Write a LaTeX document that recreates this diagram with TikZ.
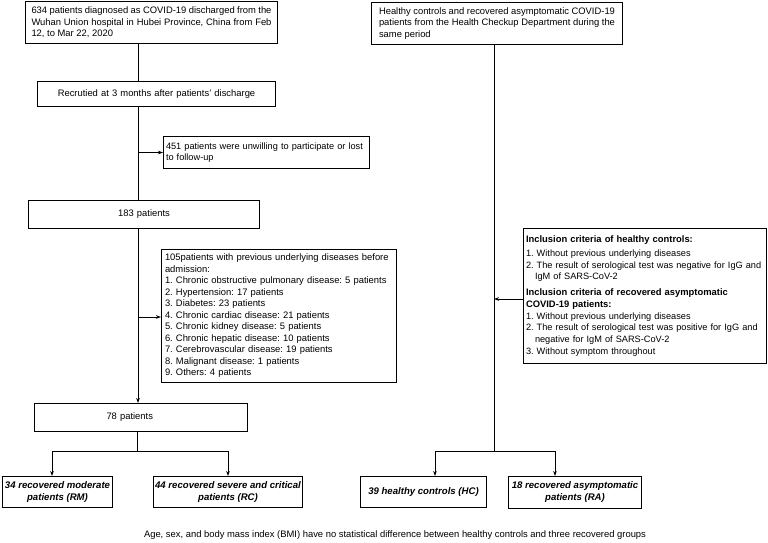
\documentclass[tikz,border=0pt]{standalone}
\usepackage{fontspec}
\setmainfont{Liberation Sans}
\usetikzlibrary{arrows.meta}
\begin{document}
\frenchspacing
\begin{tikzpicture}[x=1pt,y=-1pt,
  box/.style={draw, line width=1pt, inner ysep=0pt, anchor=north west, font=\fontsize{9.4}{11.5}\selectfont\frenchspacing},
  grp/.style={box, align=center, font=\fontsize{9.6}{12}\selectfont\bfseries\itshape\frenchspacing},
  arr/.style={-{Stealth[length=5pt,width=3.6pt]}, line width=0.9pt},
  ln/.style={line width=0.9pt}]
\useasboundingbox (0,0) rectangle (768,542);
% left column
\node[box, minimum height=42pt, text width=240pt, inner xsep=6pt, align=justify] (b1) at (25,1)
  {634 patients diagnosed as COVID-19 discharged from the\linebreak Wuhan Union hospital in Hubei Province, China from Feb\linebreak 12, to Mar 22, 2020};
\node[box, minimum height=25pt, text width=230pt, inner xsep=4pt, align=center] (b2) at (37,81)
  {Recrutied at 3 months after patients’ discharge};
\node[box, minimum height=32pt, text width=201pt, inner xsep=2.5pt, align=left, font=\fontsize{9.2}{11.5}\selectfont\frenchspacing] (b451) at (163,136)
  {451 patients were unwilling to participate or lost\\to follow-up};
\node[box, minimum height=28pt, text width=223pt, inner xsep=4pt, align=center] (b183) at (28,200)
  {183 patients};
\node[box, minimum height=133pt, text width=228pt, inner xsep=3.5pt, align=left] (b105) at (161,249)
  {105patients with previous underlying diseases before\\admission:\\
   1. Chronic obstructive pulmonary disease: 5 patients\\
   2. Hypertension: 17 patients\\
   3. Diabetes: 23 patients\\
   4. Chronic cardiac disease: 21 patients\\
   5. Chronic kidney disease: 5 patients\\
   6. Chronic hepatic disease: 10 patients\\
   7. Cerebrovascular disease: 19 patients\\
   8. Malignant disease: 1 patients\\
   9. Others: 4 patients};
\node[box, minimum height=28pt, text width=205pt, inner xsep=4pt, align=left] (b78) at (34,403)
  {\hspace*{68pt}78 patients};
% right column
\node[box, minimum height=42pt, minimum width=251pt, text width=236pt, inner xsep=6pt, align=justify] (rt) at (371,2)
  {Healthy controls and recovered asymptomatic COVID-19\linebreak patients from the Health Checkup Department during the\linebreak same period};
\node[box, minimum height=135pt, text width=238pt, inner xsep=2.5pt, align=left, font=\fontsize{9.2}{11.7}\selectfont\frenchspacing] (inc) at (523,228)
  {\textbf{\fontsize{9.4}{11.7}\selectfont Inclusion criteria of healthy controls:}\\[2pt]
   1. Without previous underlying diseases\\
   2. The result of serological test was negative for IgG and\\
   \hspace*{9pt}IgM of SARS-CoV-2\\[4pt]
   \textbf{\fontsize{9.4}{11.7}\selectfont Inclusion criteria of recovered asymptomatic}\\
   \textbf{\fontsize{9.4}{11.7}\selectfont COVID-19 patients:}\\
   1. Without previous underlying diseases\\
   2. The result of serological test was positive for IgG and\\
   \hspace*{9pt}negative for IgM of SARS-CoV-2\\
   3. Without symptom throughout};
% groups
\node[grp, minimum width=110pt, minimum height=31pt, inner xsep=0pt] (rm) at (2,476)
  {34 recovered moderate\\patients (RM)};
\node[grp, minimum width=149pt, minimum height=31pt, inner xsep=0pt] (rc) at (153,476)
  {44 recovered severe and critical\\patients (RC)};
\node[grp, minimum width=126pt, minimum height=31pt, inner xsep=0pt] (hc) at (360,476)
  {39 healthy controls (HC)};
\node[grp, minimum width=133pt, minimum height=32pt, inner xsep=0pt] (ra) at (508,476)
  {18 recovered asymptomatic\\patients (RA)};
\node[font=\fontsize{9.4}{11.5}\selectfont\frenchspacing] (cap) at (395,535)
  {Age, sex, and body mass index (BMI) have no statistical difference between healthy controls and three recovered groups};
% connectors
\coordinate (sp) at (138,0);
\coordinate (j1) at (137,451);
\coordinate (rmx) at (52,0);
\coordinate (rcx) at (228,0);
\coordinate (sp2) at (494,0);
\coordinate (j2) at (494,451);
\coordinate (hcx) at (435,0);
\coordinate (rax) at (555,0);
\coordinate (ia) at (0,299);
\coordinate (ba) at (0,317);
\draw[ln] (b1.south -| sp) -- (b2.north -| sp);
\draw[ln] (b2.south -| sp) -- (b183.north -| sp);
\draw[arr] (sp |- b451.west) -- (b451.west);
\draw[arr] (b183.south -| sp) -- (b78.north -| sp);
\draw[arr] (sp |- ba) -- (b105.west |- ba);
\draw[ln] (b78.south -| j1) -- (j1);
\draw[arr] (j1) -| (rm.north -| rmx);
\draw[arr] (j1) -| (rc.north -| rcx);
\draw[ln] (rt.south -| sp2) -- (j2);
\draw[arr] (j2) -| (hc.north -| hcx);
\draw[arr] (j2) -| (ra.north -| rax);
\draw[arr] (inc.west |- ia) -- (sp2 |- ia);
\end{tikzpicture}
\end{document}
